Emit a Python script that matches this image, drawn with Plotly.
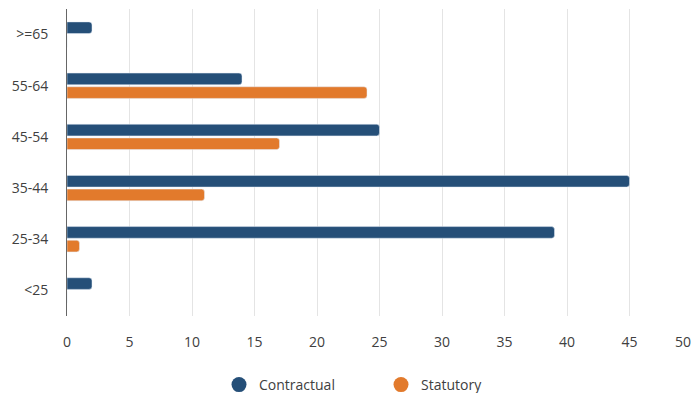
import plotly.graph_objects as go

categories = ["<25", "25-34", "35-44", "45-54", "55-64", ">=65"]
contractual = [2, 39, 45, 25, 14, 2]
statutory = [0, 1, 11, 17, 24, 0]
x_ticks = [0, 5, 10, 15, 20, 25, 30, 35, 40, 45, 50]

BLUE = "#254f78"
ORANGE = "#e27a2c"
FONT = "Open Sans"
TXT = "#404040"

fig = go.Figure()
# statutory first so that contractual sits on top within each group
fig.add_trace(go.Bar(y=categories, x=statutory, orientation="h", name="Statutory",
                     marker=dict(color=ORANGE, cornerradius=3), showlegend=False))
fig.add_trace(go.Bar(y=categories, x=contractual, orientation="h", name="Contractual",
                     marker=dict(color=BLUE, cornerradius=3), showlegend=False))
# legend entries with circle markers
fig.add_trace(go.Scatter(x=[None], y=[None], mode="markers", name="Contractual",
                         marker=dict(color=BLUE, size=15, symbol="circle")))
fig.add_trace(go.Scatter(x=[None], y=[None], mode="markers", name="Statutory",
                         marker=dict(color=ORANGE, size=15, symbol="circle")))

# last tick label is pulled inside the chart edge, as in the reference
tick_text = [str(t) for t in x_ticks[:-1]] + [""]
fig.add_annotation(x=x_ticks[-1], xref="x", xanchor="right", xshift=1,
                   y=0, yref="paper", yanchor="middle", yshift=-25,
                   text=str(x_ticks[-1]), showarrow=False,
                   font=dict(family=FONT, size=14, color=TXT))

fig.update_layout(
    width=696, height=393,
    margin=dict(l=67, r=3.5, t=9, b=77, autoexpand=False),
    paper_bgcolor="white", plot_bgcolor="white",
    barmode="group", bargap=0.465, bargroupgap=0.15,
    font=dict(family=FONT, size=14, color=TXT),
    showlegend=True,
    legend=dict(orientation="h", xref="container", x=219 / 696, xanchor="left",
                yref="container", y=8 / 393, yanchor="middle",
                font=dict(size=14, color=TXT), entrywidth=117, itemsizing="trace",
                traceorder="normal"),
    xaxis=dict(range=[0, 50], tickvals=x_ticks, ticktext=tick_text, showgrid=True,
               gridcolor="#e4e4e4", gridwidth=1, zeroline=False, showline=False,
               ticks="", automargin=False, ticklabelstandoff=16,
               tickfont=dict(size=14, color=TXT)),
    yaxis=dict(categoryorder="array", categoryarray=categories, showgrid=False,
               showline=True, linecolor="#666", linewidth=1, ticks="", automargin=False,
               ticklabelstandoff=15, tickfont=dict(size=14, color=TXT)),
)

fig.write_html("out.html", config={"displayModeBar": False},
               post_script="document.body.style.margin='0px';")
